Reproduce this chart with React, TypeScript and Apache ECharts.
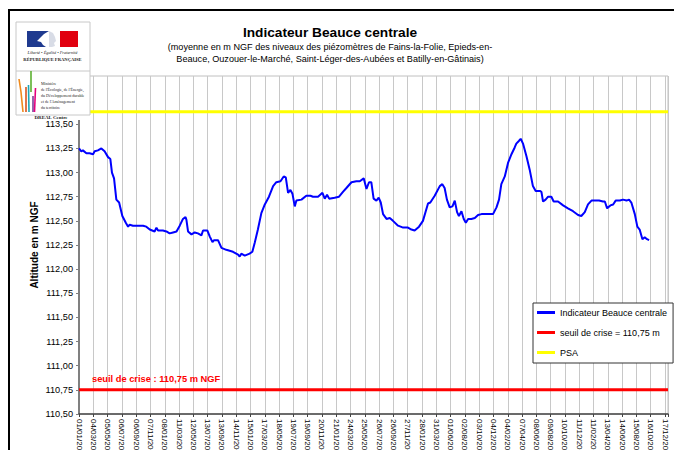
import React, { useEffect, useRef } from 'react';
import * as echarts from 'echarts';

const dates: string[] = [
  '2006-01-01','2006-01-11','2006-01-18','2006-02-02','2006-02-16','2006-03-03','2006-03-10','2006-03-24','2006-04-08','2006-04-22',
  '2006-05-07','2006-05-17','2006-05-24','2006-06-02','2006-06-12','2006-06-24','2006-07-08','2006-07-23','2006-08-02','2006-08-09',
  '2006-08-23','2006-09-07','2006-10-06','2006-10-20','2006-11-04','2006-11-25','2006-12-03','2006-12-10','2006-12-31','2007-01-15',
  '2007-01-29','2007-02-13','2007-02-28','2007-03-14','2007-03-28','2007-04-08','2007-04-12','2007-04-19','2007-05-04','2007-05-18',
  '2007-06-01','2007-06-16','2007-06-23','2007-07-12','2007-07-22','2007-08-03','2007-08-10','2007-08-27','2007-09-11','2007-10-02',
  '2007-10-31','2007-11-22','2007-11-29','2007-12-06','2007-12-21','2008-01-11','2008-01-23','2008-02-02','2008-02-16','2008-03-02',
  '2008-03-17','2008-04-04','2008-04-22','2008-05-06','2008-05-24','2008-06-07','2008-06-16','2008-06-26','2008-07-06','2008-07-15',
  '2008-07-25','2008-08-01','2008-08-23','2008-09-13','2008-10-01','2008-10-12','2008-11-03','2008-11-22','2008-12-02','2008-12-12',
  '2008-12-21','2009-01-14','2009-02-02','2009-02-19','2009-03-06','2009-03-28','2009-04-18','2009-05-03','2009-05-20','2009-06-01',
  '2009-06-12','2009-06-22','2009-07-02','2009-07-14','2009-07-24','2009-08-02','2009-08-12','2009-08-27','2009-09-10','2009-09-24',
  '2009-10-16','2009-11-07','2009-11-28','2009-12-13','2009-12-27','2010-01-15','2010-02-01','2010-02-23','2010-03-05','2010-03-24',
  '2010-04-15','2010-04-26','2010-05-06','2010-05-16','2010-05-28','2010-06-09','2010-06-19','2010-06-29','2010-07-07','2010-07-18',
  '2010-07-28','2010-08-06','2010-08-16','2010-08-30','2010-09-14','2010-09-28','2010-10-13','2010-10-27','2010-11-18','2010-12-02',
  '2010-12-17','2010-12-28','2011-01-07','2011-01-22','2011-02-05','2011-02-20','2011-03-06','2011-03-13','2011-03-25','2011-04-01',
  '2011-04-11','2011-04-26','2011-05-10','2011-05-24','2011-06-05','2011-06-23','2011-06-30','2011-07-07','2011-07-18','2011-07-29',
  '2011-08-12','2011-08-22','2011-09-10','2011-10-02','2011-10-23','2011-11-14','2011-12-06','2011-12-20','2012-01-04','2012-01-18',
  '2012-02-02','2012-02-23','2012-03-06','2012-03-23','2012-03-31','2012-04-10','2012-04-24','2012-05-06','2012-05-17','2012-06-04',
  '2012-06-18','2012-07-03','2012-07-14','2012-07-24','2012-08-08','2012-08-19','2012-08-29','2012-09-10','2012-09-20','2012-09-30',
  '2012-10-09'
];

const levels: number[] = [
  113.25,113.22,113.23,113.20,113.20,113.19,113.22,113.23,113.25,113.22,
  113.16,113.14,113.00,112.94,112.72,112.69,112.55,112.48,112.44,112.46,
  112.45,112.45,112.45,112.44,112.41,112.39,112.43,112.40,112.40,112.39,
  112.37,112.38,112.39,112.45,112.52,112.54,112.51,112.39,112.36,112.38,
  112.37,112.35,112.40,112.40,112.34,112.28,112.30,112.30,112.22,112.20,
  112.18,112.15,112.13,112.16,112.14,112.16,112.18,112.27,112.41,112.58,
  112.67,112.75,112.86,112.90,112.91,112.96,112.95,112.79,112.82,112.78,
  112.65,112.71,112.72,112.76,112.76,112.75,112.75,112.79,112.73,112.77,
  112.73,112.74,112.75,112.80,112.84,112.90,112.91,112.91,112.94,112.83,
  112.90,112.90,112.73,112.71,112.74,112.69,112.57,112.52,112.53,112.50,
  112.45,112.43,112.43,112.41,112.40,112.44,112.50,112.68,112.69,112.76,
  112.86,112.88,112.84,112.72,112.64,112.65,112.71,112.59,112.55,112.60,
  112.52,112.48,112.52,112.52,112.53,112.56,112.57,112.57,112.57,112.57,
  112.64,112.72,112.88,112.96,113.10,113.19,113.26,113.30,113.33,113.35,
  113.30,113.17,113.03,112.86,112.81,112.81,112.80,112.70,112.72,112.75,
  112.75,112.70,112.70,112.66,112.63,112.60,112.56,112.55,112.59,112.67,
  112.71,112.71,112.71,112.70,112.70,112.63,112.66,112.67,112.71,112.71,
  112.72,112.71,112.72,112.69,112.57,112.44,112.41,112.31,112.33,112.31,
  112.30
];

const SEUIL_CRISE = 110.75;
const PSA_LEVEL = 113.63;
const AXIS_START = '2006-01-01';
const AXIS_END = '2012-12-30';
const TICK_DAYS = 62;
const Y_MIN = 110.5;
const Y_MAX = 114;
const Y_STEP = 0.25;

const SERIES_MAIN = 'Indicateur Beauce centrale';
const SERIES_SEUIL = 'seuil de crise = 110,75 m';
const SERIES_PSA = 'PSA';

const MINISTRY_LINES = [
  'Ministère',
  "de l'Écologie, de l'Énergie,",
  'du Développement durable',
  "et de l'Aménagement",
  'du territoire'
];

const DAY = 86400000;
const startMs = Date.parse(AXIS_START + 'T00:00:00Z');
const dayOffset = (d: string) => Math.round((Date.parse(d + 'T00:00:00Z') - startMs) / DAY);
const endOffset = dayOffset(AXIS_END);

const pad = (n: number) => (n < 10 ? '0' + n : '' + n);
const fmtDate = (off: number) => {
  const dt = new Date(startMs + off * DAY);
  return pad(dt.getUTCDate()) + '/' + pad(dt.getUTCMonth() + 1) + '/' + dt.getUTCFullYear();
};

const FONT = 'Liberation Sans, Arial, sans-serif';
const SERIF = 'Liberation Serif, Times New Roman, serif';

export default function App() {
  const ref = useRef<HTMLDivElement>(null);
  useEffect(() => {
    if (!ref.current) return;
    const chart = echarts.init(ref.current, undefined, { renderer: 'svg' });
    const mainData = dates.map((d, i) => [dayOffset(d), levels[i]]);
    const logoZ = 100;
    // tiny logo texts are drawn at double size inside a half-scale group
    const tinyText = (text: string, x: number, y: number, size: number, opts: any = {}) => ({
      type: 'group', x, y, scaleX: 0.5, scaleY: 0.5, z: logoZ + 2,
      children: [{
        type: 'text', x: 0, y: 0, z: logoZ + 2,
        style: {
          text, fontSize: size * 2, fontFamily: SERIF, fill: '#222',
          lineHeight: (opts.lineHeight || size) * 2,
          textAlign: opts.align || 'left', textVerticalAlign: opts.valign || 'middle',
          fontWeight: opts.bold ? 'bold' : 'normal', fontStyle: opts.italic ? 'italic' : 'normal'
        }
      }]
    });
    const bar = (pts: number[][], color: string) => ({
      type: 'polyline', z: logoZ + 2,
      shape: { points: pts },
      style: { stroke: color, lineWidth: 1.6, fill: 'none' }
    });
    const option: any = {
      animation: false,
      backgroundColor: '#fff',
      grid: {
        left: 79, right: 6, top: 76, bottom: 36,
        outerBoundsMode: 'none', containLabel: false,
        show: true, borderColor: '#c0c0c0', borderWidth: 1, backgroundColor: 'transparent'
      },
      legend: {
        left: 533, top: 303, orient: 'vertical', selectedMode: false,
        data: [SERIES_MAIN, SERIES_SEUIL, SERIES_PSA],
        backgroundColor: '#fff', borderColor: '#333', borderWidth: 1,
        padding: [5, 6, 6, 4], itemGap: 11, itemWidth: 18, itemHeight: 3, icon: 'rect',
        textStyle: { fontSize: 9, color: '#000', fontFamily: FONT }
      },
      xAxis: {
        type: 'value', min: 0, max: endOffset, interval: TICK_DAYS,
        axisLine: { show: true, lineStyle: { color: '#444', width: 1.5 } },
        axisTick: { show: true, length: 3, lineStyle: { color: '#444' } },
        splitLine: { show: true, lineStyle: { color: '#c8c8c8', width: 1 } },
        axisLabel: {
          rotate: -90, fontSize: 8, color: '#000', fontFamily: FONT, margin: 5,
          formatter: (v: number) => (Math.round(v) % TICK_DAYS === 0 ? fmtDate(Math.round(v)) : '')
        }
      },
      yAxis: {
        type: 'value', min: Y_MIN, max: Y_MAX, interval: Y_STEP,
        name: 'Altitude en m NGF', nameLocation: 'middle', nameGap: 40, nameMoveOverlap: false,
        nameTextStyle: { fontSize: 10, fontWeight: 'bold', color: '#000', fontFamily: FONT },
        axisLine: { show: true, lineStyle: { color: '#808080', width: 2 } },
        axisTick: { show: true, length: 3, lineStyle: { color: '#808080' } },
        splitLine: { show: false },
        axisLabel: {
          fontSize: 9.2, color: '#000', fontFamily: FONT, margin: 6,
          formatter: (v: number) => v.toFixed(2).replace('.', ',')
        }
      },
      series: [
        {
          name: SERIES_PSA, type: 'line', showSymbol: false, symbol: 'none',
          data: [[0, PSA_LEVEL], [endOffset, PSA_LEVEL]],
          lineStyle: { color: '#ffff00', width: 3 }, itemStyle: { color: '#ffff00' }, z: 2
        },
        {
          name: SERIES_SEUIL, type: 'line', showSymbol: false, symbol: 'none',
          data: [[0, SEUIL_CRISE], [endOffset, SEUIL_CRISE]],
          lineStyle: { color: '#ff0000', width: 3 }, itemStyle: { color: '#ff0000' }, z: 3
        },
        {
          name: SERIES_MAIN, type: 'line', showSymbol: false, symbol: 'none',
          data: mainData,
          lineStyle: { color: '#0000ff', width: 2 }, itemStyle: { color: '#0000ff' }, z: 4
        }
      ],
      graphic: [
        { type: 'line', z: logoZ, shape: { x1: 8, y1: 10, x2: 674, y2: 10 }, style: { stroke: '#000', lineWidth: 2 } },
        { type: 'line', z: logoZ, shape: { x1: 9, y1: 10, x2: 9, y2: 450 }, style: { stroke: '#000', lineWidth: 2 } },
        { type: 'rect', z: logoZ, shape: { x: 11, y: 12, width: 79, height: 108 }, style: { fill: '#fff' } },
        { type: 'rect', z: logoZ + 1, shape: { x: 16, y: 22, width: 74, height: 93 }, style: { fill: '#fff', stroke: '#c8c8c8', lineWidth: 1 } },
        { type: 'line', z: logoZ + 1, shape: { x1: 16, y1: 71, x2: 90, y2: 71 }, style: { stroke: '#c8c8c8', lineWidth: 1 } },
        { type: 'rect', z: logoZ + 2, shape: { x: 27, y: 31, width: 22, height: 16 }, style: { fill: '#1f3a8f' } },
        { type: 'rect', z: logoZ + 2, shape: { x: 60, y: 31, width: 18, height: 16 }, style: { fill: '#e1000f' } },
        { type: 'polygon', z: logoZ + 3, shape: { points: [[49, 31], [44, 34], [40, 38], [37, 41], [41, 42], [43, 45], [46, 47], [49, 47]] }, style: { fill: '#fff' } },
        { type: 'polygon', z: logoZ + 3, shape: { points: [[49, 31], [53, 33], [55, 37], [56, 41], [54, 43], [55, 46], [52, 47], [49, 47]] }, style: { fill: '#d8dce6' } },
        tinyText('Liberté • Égalité • Fraternité', 52.5, 52.5, 4.3, { align: 'center', italic: true }),
        tinyText('RÉPUBLIQUE FRANÇAISE', 52.5, 59.5, 4.6, { align: 'center', bold: true }),
        bar([[19, 79], [21, 92], [23, 112]], '#f08a1c'),
        bar([[26, 87], [26, 112]], '#d9531e'),
        bar([[28.5, 85], [29, 112]], '#1aa6b7'),
        bar([[31, 71], [31, 92]], '#5cb030'),
        bar([[33, 96], [33, 112]], '#7b3f98'),
        bar([[35.5, 88], [34.5, 112]], '#e5007e'),
        tinyText(MINISTRY_LINES.join('\n'), 41, 81, 4, { valign: 'top', lineHeight: 5.8 }),
        tinyText('DREAL Centre', 51, 117.3, 5, { align: 'center', bold: true }),
        {
          type: 'text', x: 330, y: 32, z: logoZ,
          style: { text: 'Indicateur Beauce centrale', fontSize: 13.7, fontWeight: 'bold', fontFamily: FONT, fill: '#000', textAlign: 'center', textVerticalAlign: 'middle' }
        },
        {
          type: 'text', x: 330, y: 46.5, z: logoZ,
          style: { text: '(moyenne en m NGF des niveaux des piézomètres de Fains-la-Folie, Epieds-en-', fontSize: 9.1, fontFamily: FONT, fill: '#000', textAlign: 'center', textVerticalAlign: 'middle' }
        },
        {
          type: 'text', x: 330, y: 58.5, z: logoZ,
          style: { text: 'Beauce, Ouzouer-le-Marché, Saint-Léger-des-Aubées et Batilly-en-Gâtinais)', fontSize: 9.1, fontFamily: FONT, fill: '#000', textAlign: 'center', textVerticalAlign: 'middle' }
        },
        {
          type: 'text', x: 92, y: 379, z: logoZ,
          style: { text: 'seuil de crise : 110,75 m NGF', fontSize: 9.3, fontWeight: 'bold', fontFamily: FONT, fill: '#ff0000', textAlign: 'left', textVerticalAlign: 'middle' }
        }
      ]
    };
    chart.setOption(option);
    return () => chart.dispose();
  }, []);
  return <div ref={ref} style={{ position: 'fixed', left: 0, top: 0, width: 674, height: 450, background: '#fff' }} />;
}
